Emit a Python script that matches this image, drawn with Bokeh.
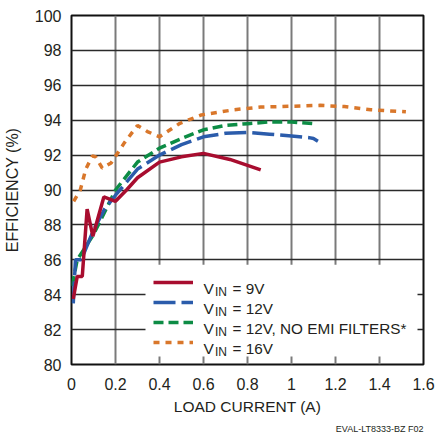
import math
from bokeh.plotting import figure
from bokeh.models import Range1d, FixedTicker, Legend, LegendItem, Label, Title, BoxAnnotation
from bokeh.embed import file_html
from bokeh.resources import INLINE

# ---------------- data ----------------
load_9v = [0.008, 0.026, 0.049, 0.071, 0.097, 0.147, 0.2, 0.25, 0.3, 0.4, 0.5, 0.6, 0.72, 0.86]
eff_9v = [83.75, 85.05, 85.05, 88.9, 87.35, 89.6, 89.35, 90.0, 90.7, 91.6, 91.9, 92.1, 91.75, 91.15]

load_12v = [0.008, 0.018, 0.044, 0.1, 0.15, 0.2, 0.3, 0.4, 0.5, 0.6, 0.7, 0.8, 0.9, 1.0, 1.08, 1.1, 1.12]
eff_12v = [83.5, 86.0, 86.0, 87.7, 88.9, 89.7, 91.2, 92.0, 92.6, 93.05, 93.25, 93.3, 93.2, 93.1, 93.0, 92.95, 92.8]

load_12v_noemi = [0.003, 0.026, 0.1, 0.2, 0.3, 0.4, 0.5, 0.6, 0.7, 0.8, 0.9, 1.0, 1.1]
eff_12v_noemi = [84.5, 86.0, 87.45, 90.0, 91.6, 92.4, 92.95, 93.45, 93.7, 93.8, 93.9, 93.9, 93.8]

load_16v = [0.01, 0.04, 0.065, 0.095, 0.11, 0.14, 0.18, 0.24, 0.3, 0.345, 0.4, 0.49, 0.59, 0.74, 0.86, 1.0, 1.13, 1.24, 1.36, 1.52]
eff_16v = [89.35, 90.0, 91.2, 91.95, 91.9, 91.25, 91.55, 92.7, 93.7, 93.35, 93.05, 93.8, 94.3, 94.6, 94.75, 94.8, 94.85, 94.78, 94.6, 94.48]

series_labels = ["= 9V", "= 12V", "= 12V, NO EMI FILTERS*", "= 16V"]
x_ticks = [0, 0.2, 0.4, 0.6, 0.8, 1.0, 1.2, 1.4, 1.6]
x_tick_labels = ["0", "0.2", "0.4", "0.6", "0.8", "1", "1.2", "1.4", "1.6"]
y_ticks = [80, 82, 84, 86, 88, 90, 92, 94, 96, 98, 100]
y_tick_labels = ["80", "82", "84", "86", "88", "90", "92", "94", "96", "98", "100"]
x_title = "LOAD CURRENT (A)"
y_title = "EFFICIENCY (%)"
footer = "EVAL-LT8333-BZ F02"

# ---------------- layout ----------------
W, H = 435, 437
FL, FT, FR, FB = 71, 15, 423, 365  # frame edges in figure pixels
X0, X1, Y0, Y1 = 0, 1.6, 80, 100
sx = (FR - FL) / (X1 - X0)
sy = (FB - FT) / (Y1 - Y0)

def dx(px):
    return X0 + (px - FL) / sx

def dy(py):
    return Y1 - (py - FT) / sy

FONT = "Liberation Sans"
TXT = "#231f20"

p = figure(width=W, height=H, output_backend="svg", toolbar_location=None,
           x_range=Range1d(X0, X1), y_range=Range1d(Y0, Y1),
           min_border_left=FL, min_border_right=W - FR,
           min_border_top=FT, min_border_bottom=H - FB)
p.background_fill_color = "white"
p.border_fill_color = "white"
p.outline_line_color = "#111111"
p.outline_line_width = 2

for ax in (p.xaxis[0], p.yaxis[0]):
    ax.axis_line_color = None
    ax.major_tick_line_color = None
    ax.minor_tick_line_color = None
    ax.major_tick_out = 0
    ax.major_tick_in = 0
    ax.minor_tick_out = 0
    ax.major_label_text_font = FONT
    ax.major_label_text_font_size = "16px"
    ax.major_label_text_color = TXT
    ax.axis_label_text_font = FONT
    ax.axis_label_text_font_style = "normal"
    ax.axis_label_text_color = TXT

p.xaxis.ticker = FixedTicker(ticks=x_ticks)
p.yaxis.ticker = FixedTicker(ticks=y_ticks)
p.xaxis.major_label_overrides = {t: l for t, l in zip(x_ticks, x_tick_labels)}
p.yaxis.major_label_overrides = {t: l for t, l in zip(y_ticks, y_tick_labels)}
p.xaxis.major_label_standoff = 13
p.yaxis.major_label_standoff = 10
p.xaxis.axis_label = x_title
p.yaxis.axis_label = y_title
p.xaxis.axis_label_text_font_size = "15.5px"
p.yaxis.axis_label_text_font_size = "16px"
p.xaxis.axis_label_standoff = 5
p.yaxis.axis_label_standoff = 11

p.xgrid.grid_line_color = "#7a7a7a"
p.xgrid.grid_line_width = 2
p.ygrid.grid_line_color = "#2a2a2a"
p.ygrid.grid_line_width = 1.5

# white legend panel hiding the grid (below the curves)
ROW = 20
PAD = 8
LOC_X, LOC_Y = 82, 12
NROW = len(series_labels)
box_left = FL + LOC_X - PAD
box_right = box_left + PAD + 40 + 10 + 206 + PAD
box_bottom = FB - LOC_Y + PAD - 4
box_top = FB - LOC_Y - ROW * NROW - PAD
p.add_layout(BoxAnnotation(left=dx(box_left), right=dx(box_right),
                           bottom=dy(box_bottom), top=dy(box_top),
                           fill_color="white", fill_alpha=1.0, line_color=None,
                           level="underlay"))

r16 = p.line(load_16v, eff_16v, line_color="#d9772b", line_width=3.5, line_dash="6 6")
r12n = p.line(load_12v_noemi, eff_12v_noemi, line_color="#0d8c45", line_width=3.5, line_dash="10 5")
r12 = p.line(load_12v, eff_12v, line_color="#2b5cab", line_width=3.5, line_dash="22 6")
r9 = p.line(load_9v, eff_9v, line_color="#a80d2f", line_width=3.5)

renderers = [r9, r12, r12n, r16]
legend = Legend(items=[LegendItem(label=" ", renderers=[r]) for r in renderers],
                location=(LOC_X, LOC_Y), orientation="vertical",
                glyph_width=40, glyph_height=ROW, label_height=ROW, label_width=206,
                label_standoff=10, spacing=0, padding=PAD, margin=0,
                border_line_color=None, background_fill_alpha=0.0,
                label_text_font_size="1px")
p.add_layout(legend)

text_x0 = FL + LOC_X + 40 + 10  # start of label text
for i, lab in enumerate(series_labels):
    center = FB - LOC_Y - ROW / 2 - ROW * (NROW - 1 - i) - 1
    base = center + 6.5
    p.add_layout(Label(x=dx(text_x0), y=dy(base), text="V", text_font=FONT,
                       text_font_size="15.5px", text_color=TXT, text_baseline="alphabetic",
                       level="overlay"))
    p.add_layout(Label(x=dx(text_x0 + 11.5), y=dy(base + 3.5), text="IN", text_font=FONT,
                       text_font_size="12px", text_color=TXT, text_baseline="alphabetic",
                       level="overlay"))
    p.add_layout(Label(x=dx(text_x0 + 29), y=dy(base), text=lab, text_font=FONT,
                       text_font_size="15.3px", text_color=TXT, text_baseline="alphabetic",
                       level="overlay"))

p.add_layout(Title(text=footer, align="right", text_font=FONT, text_font_size="9px",
                   text_font_style="normal", text_color=TXT, standoff=8, offset=0), "below")

open("out.html", "w").write(file_html(p, INLINE))
